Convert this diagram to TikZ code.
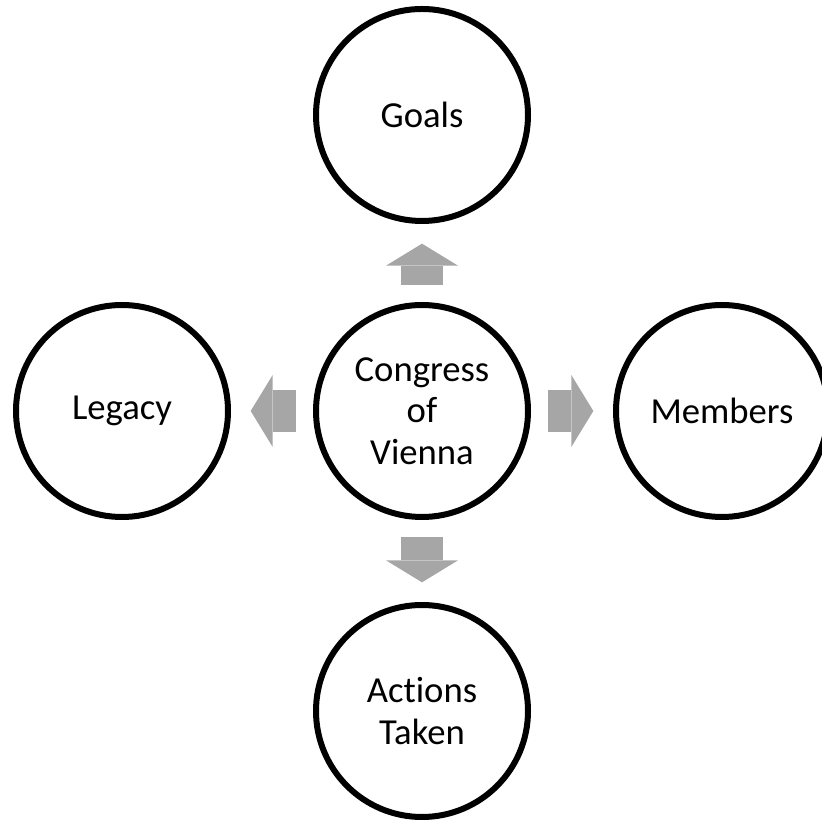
\documentclass[tikz,border=0pt]{standalone}
\usepackage{fontspec}
\setmainfont[Ligatures=NoCommon]{Carlito}
\usetikzlibrary{arrows.meta}

\definecolor{arrowgray}{HTML}{A6A6A6}

\begin{document}
\begin{tikzpicture}[x=0.75pt, y=0.75pt,
    topic/.style={circle, draw, line width=4.5pt, minimum size=159pt, inner sep=0pt,
      outer sep=0pt, align=center, font=\fontsize{27.5pt}{31pt}\selectfont},
    fat/.style={draw=arrowgray, line width=32pt,
      -{Triangle[length=16.5pt, width=54pt, line width=0pt]},
      shorten <=15pt, shorten >=17pt}]
    \useasboundingbox (0, 0) rectangle (821, 823);

    \node[topic] (congress) at (422, 412) {Congress\\of\\Vienna};
    \node[topic] (goals) at (422, 708) {Goals};
    \node[topic] (actions) at (422, 112) {Actions\\Taken};
    \node[topic] (legacy) at (122, 412) {Legacy};
    \node[topic] (members) at (722, 412) {Members};

    \draw[fat] (congress) -- (goals);
    \draw[fat] (congress) -- (actions);
    \draw[fat] (congress) -- (legacy);
    \draw[fat] (congress) -- (members);
  \end{tikzpicture}
\end{document}
